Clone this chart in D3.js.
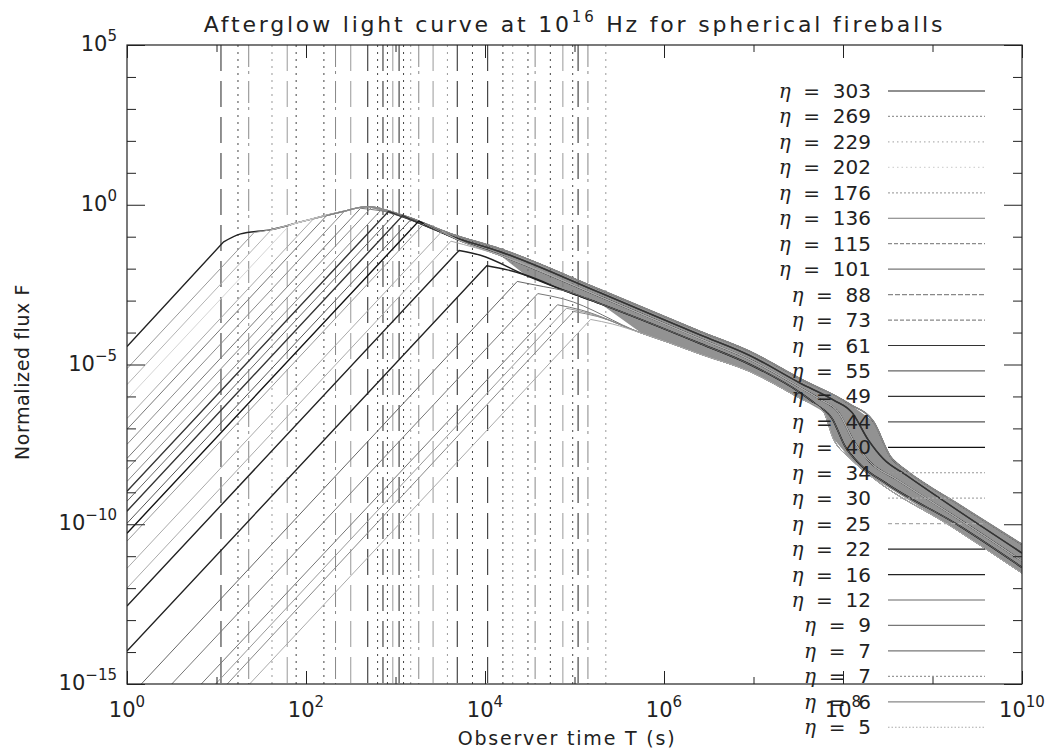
<!DOCTYPE html>
<html>
<head>
<meta charset="utf-8">
<script src="https://cdn.jsdelivr.net/npm/d3@7"></script>
<style>
  body { margin: 0; background: #fff; }
  text { font-family: "DejaVu Sans", sans-serif; fill: #222; }
</style>
</head>
<body>
<svg id="chart" width="1057" height="753"></svg>
<script>
/* values, all in log10 units: [log10 T, log10 F] */

// Lorentz factors, in legend order (earliest turnover first)
var etaValues = [303, 269, 229, 202, 176, 136, 115, 101, 88, 73, 61, 55, 49, 44, 40, 34, 30, 25, 22, 16, 12, 9, 7, 7, 6, 5];

// where each rising branch enters the frame
var riseStart = [
  [0, -4.44], [0, -5.13], [0, -5.63], [0, -6.09], [0, -6.69], [0, -7.03], [0, -7.50], [0, -7.94],
  [0, -8.28], [0, -8.66], [0, -8.97], [0, -9.28], [0, -9.59], [0, -9.97], [0, -10.28], [0, -10.53],
  [0, -11.38], [0, -12.00], [0, -12.56], [0, -13.97],
  [0.16, -15], [0.50, -15], [0.83, -15], [0.99, -15], [1.12, -15], [1.37, -15]
];

// turnover point of each curve
var peakPoint = [
  [1.08, -1.16], [1.42, -0.87], [1.61, -0.79], [1.82, -0.63], [2.08, -0.45], [2.23, -0.34], [2.43, -0.20], [2.61, -0.11],
  [2.73, -0.09], [2.84, -0.16], [2.92, -0.21], [3.00, -0.27], [3.08, -0.34], [3.18, -0.44], [3.26, -0.51], [3.32, -0.59],
  [3.52, -0.83], [3.62, -1.14], [3.71, -1.43], [4.02, -1.91],
  [4.36, -2.40], [4.59, -2.78], [4.81, -3.13], [4.91, -3.24], [4.99, -3.34], [5.18, -3.59]
];

// just past the turnover, for the late curves that peak under the bundle
var shoulder = [
  null, null, null, null, null, null, null, null, null, null, null, null, null, null, null, null,
  null, null, [3.95, -1.58], [4.25, -2.04],
  [4.65, -2.56], [4.88, -2.95], [5.08, -3.30], [5.18, -3.41], [5.26, -3.50], [5.42, -3.73]
];

// which late-time track each curve settles onto
var trackOf = [0, 0, 0, 0, 0, 0, 0, 0, 0, 1, 1, 1, 1, 2, 2, 2, 2, 2, 3, 3, 3, 4, 4, 4, 4, 4];

// upper edge of the bundle (includes the slow rise before the peak)
var trackTop = [[1.08, -1.16], [1.27, -0.91], [1.61, -0.78], [1.95, -0.53], [2.40, -0.22], [2.69, -0.06],
  [3.06, -0.31], [3.62, -0.91], [4.17, -1.38], [5.29, -2.66], [6.41, -3.97], [6.96, -4.59], [7.52, -5.44],
  [8.08, -6.25], [8.34, -6.78], [8.53, -7.88], [8.72, -8.34], [9.31, -9.41], [10.0, -10.63]];
var trackUpper = [[3.2, -0.50], [3.62, -0.98], [4.17, -1.47], [5.29, -2.76], [6.41, -4.08], [6.96, -4.72],
  [7.52, -5.58], [7.9, -6.12], [8.1, -6.5], [8.28, -7.35], [8.45, -7.95], [8.7, -8.45], [9.3, -9.6], [10, -10.9]];
var trackMiddle = [[3.7, -1.10], [4.17, -1.58], [5.29, -2.88], [6.41, -4.2], [6.96, -4.85], [7.52, -5.72],
  [7.75, -6.1], [7.95, -6.5], [8.12, -7.4], [8.3, -8.05], [8.6, -8.6], [9.3, -9.85], [10, -11.15]];
var trackLower = [[4.45, -2.2], [4.9, -2.7], [5.29, -3.1], [6.41, -4.35], [6.96, -5.0], [7.52, -5.88],
  [7.7, -6.25], [7.88, -6.7], [8.02, -7.55], [8.2, -8.15], [8.5, -8.75], [9.3, -10.05], [10, -11.35]];
var trackBottom = [[5.75, -4.02], [6.04, -4.3], [6.41, -4.68], [6.96, -5.22], [7.52, -6.06], [7.78, -6.47],
  [7.89, -7.31], [8.08, -7.94], [8.34, -8.56], [9.2, -10.05], [10, -11.53]];
var tracks = [trackTop, trackUpper, trackMiddle, trackLower, trackBottom];

// vertical marker lines, log10 T
var markerTimes = [1.05, 1.24, 1.36, 1.62, 1.79, 1.89, 2.20, 2.33, 2.50, 2.69, 2.80, 2.86, 2.91, 2.97, 3.04,
  3.09, 3.17, 3.26, 3.42, 3.58, 3.69, 3.86, 4.03, 4.20, 4.31, 4.48, 4.56, 4.73, 4.87, 4.98, 5.04, 5.15, 5.35];

// axis tick exponents
var xMajor = [0, 2, 4, 6, 8, 10];
var xMinor = [1, 3, 5, 7, 9];
var yMajor = [5, 0, -5, -10, -15];
var yMinor = [4, 3, 2, 1, -1, -2, -3, -4, -6, -7, -8, -9, -11, -12, -13, -14];

/* styles (kept apart from the values) */
var curveColor = ["#222", "#999", "#b4b4b4", "#d4d4d4", "#a8a8a8", "#777", "#8c8c8c", "#777", "#888", "#888",
  "#333", "#666", "#333", "#555", "#111", "#999", "#aaa", "#aaa", "#222", "#222",
  "#666", "#777", "#777", "#999", "#888", "#aaa"];
var legendDash = [null, "2,2", "1.5,3", "1.5,3", "2,2", null, "4,2", null, "5,2", "4,2",
  null, null, null, null, null, "2,2", "2,2", "4,3", null, null,
  null, null, null, "2,2", null, "1.5,2"];
var markerStyle = ["D", "O", "A", "Ol", "L", "O", "O", "A", "L", "D", "O", "D", "O", "L", "D",
  "O", "Ol", "A", "L", "Ol", "D", "O", "D", "O", "Ol", "O", "A", "O", "L", "O", "D", "A", "Ol"];
var markerLook = {
  D:  {color: "#222", dash: "26,10"},
  L:  {color: "#999", dash: "26,10"},
  A:  {color: "#888", dash: "22,4,3,7"},
  O:  {color: "#444", dash: "2,5"},
  Ol: {color: "#999", dash: "2,5"}
};

var svg = d3.select("#chart"),
    margin = {top: 45, right: 35, bottom: 69, left: 127},
    width = +svg.attr("width") - margin.left - margin.right,
    height = +svg.attr("height") - margin.top - margin.bottom;

var x = d3.scaleLog().domain([1, 1e10]).range([0, width]),
    y = d3.scaleLog().domain([1e-15, 1e5]).range([height, 0]);

function px(d) { return x(Math.pow(10, d[0])); }
function py(d) { return y(Math.pow(10, d[1])); }

var g = svg.append("g").attr("transform", "translate(" + margin.left + "," + margin.top + ")");

g.append("clipPath").attr("id", "plot").append("rect").attr("width", width).attr("height", height);
var plot = g.append("g").attr("clip-path", "url(#plot)");

/* vertical markers */
plot.selectAll(".marker")
  .data(markerTimes)
  .enter().append("line")
    .attr("x1", function(d) { return x(Math.pow(10, d)); })
    .attr("x2", function(d) { return x(Math.pow(10, d)); })
    .attr("y1", 0).attr("y2", height)
    .attr("stroke", function(d, i) { return markerLook[markerStyle[i]].color; })
    .attr("stroke-dasharray", function(d, i) { return markerLook[markerStyle[i]].dash; })
    .attr("stroke-width", 1);

/* grey bundle where the curves pile up */
var band = trackTop.filter(function(p) { return p[0] >= 2.69; })
  .concat(trackBottom.slice().reverse())
  .concat(trackLower.filter(function(p) { return p[0] < 5.75; }).reverse())
  .concat(trackMiddle.filter(function(p) { return p[0] < 4.45; }).reverse())
  .concat(trackUpper.filter(function(p) { return p[0] < 3.7; }).reverse());

plot.append("path")
  .attr("d", d3.line().x(px).y(py).curve(d3.curveLinearClosed)(band))
  .attr("fill", "#777")
  .attr("fill-opacity", 0.8)
  .attr("stroke", "none");

/* light curves: straight power-law rise, smoothed turnover and decay */
var smooth = d3.line().x(px).y(py).curve(d3.curveMonotoneX);

function curvePath(i) {
  var own = [peakPoint[i]];
  if (shoulder[i]) own.push(shoulder[i]);
  var last = own[own.length - 1][0];
  var rest = own.concat(tracks[trackOf[i]].filter(function(p) { return p[0] > last + 0.1; }));
  return "M" + px(riseStart[i]) + "," + py(riseStart[i]) + "L" + smooth(rest).slice(1);
}

plot.selectAll(".curve")
  .data(etaValues)
  .enter().append("path")
    .attr("class", "curve")
    .attr("d", function(d, i) { return curvePath(i); })
    .attr("fill", "none")
    .attr("stroke", function(d, i) { return curveColor[i]; })
    .attr("stroke-width", function(d, i) { return curveColor[i] <= "#333" ? 1.4 : 1; });

/* frame and ticks */
g.append("rect").attr("width", width).attr("height", height)
  .attr("fill", "none").attr("stroke", "#222").attr("stroke-width", 1.2);

function pow10(list) { return list.map(function(e) { return Math.pow(10, e); }); }

function ticks(axis, scale, values, size, tr) {
  var a = g.append("g").attr("transform", tr)
    .call(axis(scale).tickValues(pow10(values)).tickSizeInner(-size).tickSizeOuter(0).tickFormat(""));
  a.select(".domain").remove();
  a.selectAll(".tick line").attr("stroke", "#222");
}

ticks(d3.axisBottom, x, xMajor, 13, "translate(0," + height + ")");
ticks(d3.axisBottom, x, xMinor, 7, "translate(0," + height + ")");
ticks(d3.axisTop, x, xMajor, 13, "translate(0,0)");
ticks(d3.axisTop, x, xMinor, 7, "translate(0,0)");
ticks(d3.axisLeft, y, yMajor, 18, "translate(0,0)");
ticks(d3.axisLeft, y, yMinor, 9, "translate(0,0)");
ticks(d3.axisRight, y, yMajor, 18, "translate(" + width + ",0)");
ticks(d3.axisRight, y, yMinor, 9, "translate(" + width + ",0)");

/* tick labels written as 10^n */
function power(sel) {
  sel.append("tspan").text("10");
  sel.append("tspan").attr("dy", -10).style("font-size", "15px")
    .text(function(d) { return d < 0 ? "\u2212" + (-d) : d; });
}

g.selectAll(".xlab")
  .data(xMajor)
  .enter().append("text")
    .attr("x", function(d) { return x(Math.pow(10, d)); })
    .attr("y", height + 33)
    .attr("text-anchor", "middle")
    .style("font-size", "21px")
    .call(power);

g.selectAll(".ylab")
  .data(yMajor)
  .enter().append("text")
    .attr("x", -10)
    .attr("y", function(d) { return y(Math.pow(10, d)) + 6; })
    .attr("text-anchor", "end")
    .style("font-size", "21px")
    .call(power);

/* titles */
var title = svg.append("text")
  .attr("x", margin.left + width / 2).attr("y", 32)
  .attr("text-anchor", "middle")
  .style("font-size", "22px")
  .style("letter-spacing", "2.8px");
title.append("tspan").text("Afterglow light curve at 10");
title.append("tspan").attr("dy", -10).style("font-size", "15px").text("16");
title.append("tspan").attr("dy", 10).text(" Hz for spherical fireballs");

svg.append("text")
  .attr("x", 567).attr("y", 745)
  .attr("text-anchor", "middle")
  .style("font-size", "19px")
  .style("letter-spacing", "1.8px")
  .text("Observer time T (s)");

svg.append("text")
  .attr("transform", "translate(29,372) rotate(-90)")
  .attr("text-anchor", "middle")
  .style("font-size", "19px")
  .style("letter-spacing", "0.6px")
  .text("Normalized flux F");

/* legend */
var legend = svg.selectAll(".legend")
  .data(etaValues)
  .enter().append("g")
    .attr("transform", function(d, i) { return "translate(0," + (91 + i * 25.45) + ")"; });

var label = legend.append("text")
  .attr("x", 871).attr("y", 7)
  .attr("text-anchor", "end")
  .style("font-size", "20px")
  .style("white-space", "pre");
label.append("tspan").style("font-family", "'DejaVu Serif', serif").style("font-style", "italic").text("\u03b7");
label.append("tspan").text(function(d) { return "  =  " + d; });

legend.append("line")
  .attr("x1", 888).attr("x2", 985)
  .attr("stroke", function(d, i) { return curveColor[i]; })
  .attr("stroke-dasharray", function(d, i) { return legendDash[i]; })
  .attr("stroke-width", 1.2);
</script>
</body>
</html>
